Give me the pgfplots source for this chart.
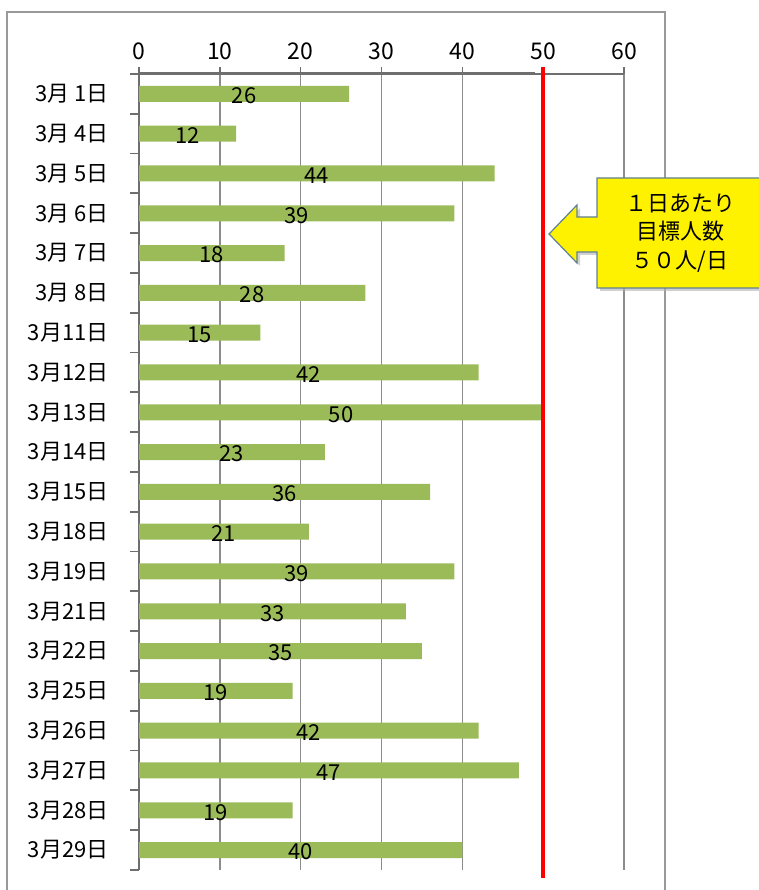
\documentclass[border=0pt]{standalone}
\usepackage{pgfplots}
\pgfplotsset{compat=1.18}
\usepackage{pgfplotstable}
\usepackage{fontspec}
\setmainfont{Noto Sans CJK JP}
\definecolor{barg}{HTML}{9BBB59}
\definecolor{callb}{HTML}{5F7F95}
\definecolor{axg}{HTML}{6E6E6E}
\pgfplotstableread{
idx v
19 26
18 12
17 44
16 39
15 18
14 28
13 15
12 42
11 50
10 23
9 36
8 21
7 39
6 33
5 35
4 19
3 42
2 47
1 19
0 40
}\data
\begin{document}
\begin{tikzpicture}[x=1pt,y=1pt]
\useasboundingbox (0,0) rectangle (758,890);
\draw[black!40, line width=1.8pt] (7,-5) -- (7,878) -- (665,878) -- (665,-5);
\begin{axis}[at={(139pt,20pt)}, anchor=south west, scale only axis,
  width=485pt, height=796pt,
  xmin=0, xmax=60, ymin=-0.5, ymax=19.5,
  axis x line*=top, axis y line*=left,
  axis line style={axg, line width=1.6pt},
  /pgf/number format/assume math mode=true,
  xtick={0,10,...,60}, xmajorgrids, grid style={black!45, line width=1.4pt},
  tick style={axg, line width=1.6pt},
  major tick length=7pt, tick align=outside,
  ytick={0,...,19},
  yticklabels={3月29日,3月28日,3月27日,3月26日,3月25日,3月22日,3月21日,3月19日,3月18日,3月15日,3月14日,3月13日,3月12日,3月11日,3月 8日,3月 7日,3月 6日,3月 5日,3月 4日,3月 1日},
  major y tick style={draw=none},
  xticklabel style={font=\fontsize{23}{23}\selectfont, yshift=4pt},
  yticklabel style={font=\fontsize{22}{22}\selectfont, xshift=-20pt},
  clip=false,
]
\addplot[xbar, bar width=16pt, fill=barg, draw=none] table[x=v, y=idx] {\data};
\addplot[draw=none, mark=none, nodes near coords, nodes near coords align={center},
  point meta=explicit,
  every node near coord/.append style={font=\fontsize{22}{22}\selectfont, text=black, yshift=-2pt}]
  table[x expr=\thisrow{v}/2, y=idx, meta=v] {\data};
\pgfplotsinvokeforeach{-0.5,0.5,1.5,2.5,3.5,4.5,5.5,6.5,7.5,8.5,9.5,10.5,11.5,12.5,13.5,14.5,15.5,16.5,17.5,18.5,19.5}{
  \draw[axg, line width=1.8pt] (axis cs:0,#1) -- ++(-9pt,0pt);
}
\draw[axg, line width=3pt] (axis cs:0,19.5) -- (axis cs:49,19.5);
\addplot[red, line width=3.5pt] coordinates {(50,-0.7) (50,19.68)};
\end{axis}
\fill[gray!60, opacity=0.6, shift={(3,-3)}] (597,712) -- (765,712) -- (765,602) -- (597,602) -- (597,638) -- (577,638) -- (577,627) -- (549,656) -- (577,685) -- (577,673) -- (597,673) -- cycle;
\filldraw[fill=yellow, draw=callb, line width=1.2pt] (597,712) -- (765,712) -- (765,602) -- (597,602) -- (597,638) -- (577,638) -- (577,627) -- (549,656) -- (577,685) -- (577,673) -- (597,673) -- cycle;
\node[align=center, font=\fontsize{22}{28.5}\selectfont] at (680,657) {１日あたり\\目標人数\\５０人/日};
\end{tikzpicture}
\end{document}
